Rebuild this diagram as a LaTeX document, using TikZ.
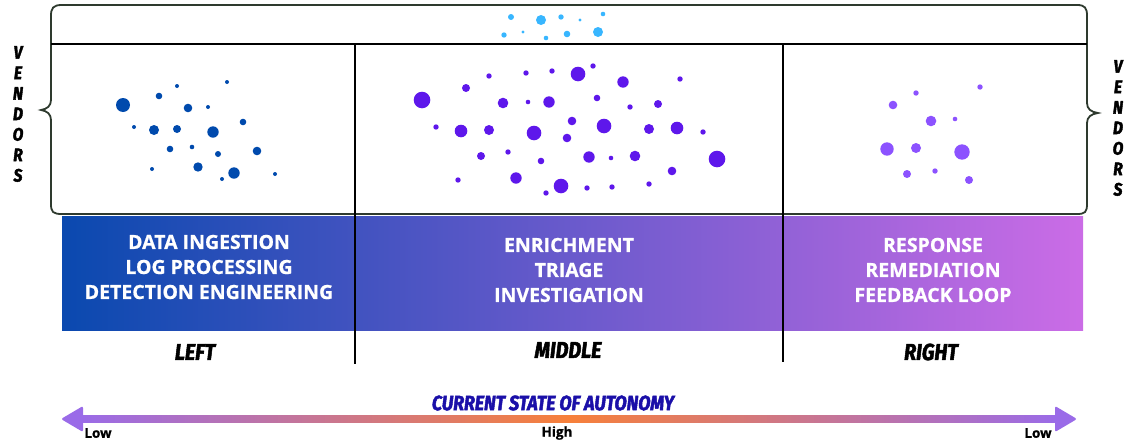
\documentclass[tikz,border=0pt]{standalone}
\usepackage{fontspec}
\setmainfont{Open Sans}[BoldFeatures={FakeBold=0.8}]
\newfontfamily\comic{Fira Sans}[FakeStretch=0.86, FakeBold=2.2]
\usetikzlibrary{calc}
\definecolor{barL}{HTML}{0A49AF}
\definecolor{barM}{HTML}{6A5ACC}
\definecolor{barR}{HTML}{CB6CE6}
\definecolor{dotL}{HTML}{004AAD}
\definecolor{dotC}{HTML}{38B6FF}
\definecolor{dotM}{HTML}{5E17EB}
\definecolor{dotR}{HTML}{8C52FF}
\definecolor{arP}{HTML}{9A6BE8}
\definecolor{arO}{HTML}{F7803A}
\definecolor{curblue}{HTML}{1A0FA8}
\definecolor{bracecol}{HTML}{2E3A2E}
\tikzset{
  wt/.style={text=white, align=center, font=\bfseries\fontsize{19.5}{25}\selectfont, inner sep=0pt},
  lbl/.style={font=\comic\bfseries\itshape\fontsize{23}{23}\selectfont, inner sep=0pt},
  vend/.style={font=\comic\bfseries\itshape\fontsize{18}{20.5}\selectfont, align=center, inner sep=0pt},
  lowhigh/.style={font=\bfseries\fontsize{13.5}{13.5}\selectfont, inner sep=0pt},
  divider/.style={line width=2pt, black},
  bracestyle/.style={line width=1.8pt, bracecol}
}
\begin{document}
\begin{tikzpicture}[x=1pt,y=-1pt]
\useasboundingbox (0,0) rectangle (1132,442);
% gradient bar
\fill[left color=barL, right color=barR, middle color=barM] (62,216) rectangle (1083,330);
% box with braces
\draw[bracestyle] (62,5) -- (1077,5)
  .. controls (1085,5) and (1087,8) .. (1087,16) -- (1087,103)
  .. controls (1087,109) and (1091,112) .. (1098,113)
  .. controls (1091,114) and (1087,117) .. (1087,123) -- (1087,204)
  .. controls (1087,212) and (1085,214) .. (1077,214) -- (62,214)
  .. controls (53,214) and (51,212) .. (51,204) -- (51,120)
  .. controls (51,114) and (47,111) .. (41,110)
  .. controls (47,109) and (51,106) .. (51,100) -- (51,16)
  .. controls (51,8) and (53,5) .. (62,5) -- cycle;
\draw[divider] (51,44) -- (1087,44);
\draw[divider] (355,44) -- (355,364);
\draw[divider] (783,44) -- (783,362);
% dots
\foreach \x/\y/\r in {123/105/7, 159/96/3.3, 177/86/2, 227/82/2, 188/108/4.3, 208/107/2, 243/122/3.3,
  134/127/2, 154/130/5, 177/129/4, 213/132/5.7, 170/149/3.3, 192/147/2.3, 218/154/3, 257/151/4.3,
  152/169/2, 198/167/4.7, 234/173/5.7, 222/179/2, 275/174/2}
  \fill[dotL] (\x,\y) circle[radius=\r];
\foreach \x/\y/\r in {511/17/3, 541/20/5, 561/17/2.7, 580/20/1.7, 603/14/2.3, 504/35/2.7, 523/32/1.7,
  546/38/2.3, 567/34/3.3, 598/32/5}
  \fill[dotC] (\x,\y) circle[radius=\r];
\foreach \x/\y/\r in {422/100/8.3, 466/88/4, 489/76/2.7, 526/73/2.7, 552/71/2.7, 578/74/7.3, 593/66/2.7,
  623/82/5.7, 680/79/2.7, 503/103/5.3, 528/102/2.3, 549/102/5.7, 597/98/3.3, 630/107/2.7, 658/104/4,
  436/127/2.7, 461/131/6.3, 489/130/5, 534/133/7.3, 572/121/4.3, 567/138/4.3, 604/126/7.3, 649/129/5,
  677/128/6.3, 703/132/2.7, 481/156/4, 508/152/2.7, 541/161/3.3, 589/157/5.7, 611/158/2.3, 635/156/5.3,
  717/159/8.3, 672/171/4.3, 458/180/2.7, 516/178/5.7, 561/186/7.3, 546/193/2.7, 587/188/2.7, 612/187/2.7,
  649/184/2.7}
  \fill[dotM] (\x,\y) circle[radius=\r];
\foreach \x/\y/\r in {916/93/2.7, 980/87/2.7, 893/105/4.3, 931/121/5.3, 955/119/2.3, 887/149/6.7,
  916/148/5, 962/152/7.7, 907/174/4, 935/171/2.7, 969/180/4}
  \fill[dotR] (\x,\y) circle[radius=\r];
% bar texts
\node[wt] (tleft) at (209,267) {DATA INGESTION\\LOG PROCESSING\\DETECTION ENGINEERING};
\node[wt] (tmid) at (569,270) {ENRICHMENT\\TRIAGE\\INVESTIGATION};
\node[wt] (tright) at (933,270) {RESPONSE\\REMEDIATION\\FEEDBACK LOOP};
% column labels
\node[lbl] (lleft) at (195,352) {LEFT};
\node[lbl] (lmid) at (568,350) {MIDDLE};
\node[lbl] (lright) at (931,352) {RIGHT};
% vendors
\node[vend] (vl) at (18,114) {V\\E\\N\\D\\O\\R\\S};
\node[vend] (vr) at (1118,128) {V\\E\\N\\D\\O\\R\\S};
% autonomy arrow
\coordinate (aL) at (61,419);
\coordinate (aR) at (1077,419);
\fill[left color=arP, right color=arP, middle color=arO] ($(aL)+(19,-3.5)$) rectangle ($(aR)+(-19,3.5)$);
\fill[arP, rounded corners=2pt] (aL) -- ($(aL)+(22,-13)$) -- ($(aL)+(22,13)$) -- cycle;
\fill[arP, rounded corners=2pt] (aR) -- ($(aR)+(-22,-13)$) -- ($(aR)+(-22,13)$) -- cycle;
\node[font=\comic\bfseries\itshape\fontsize{20.7}{20.7}\selectfont, text=curblue, inner sep=0pt] (cur) at (553,403) {CURRENT STATE OF AUTONOMY};
\node[lowhigh] (low1) at (98,433) {Low};
\node[lowhigh] (high) at (557,433) {High};
\node[lowhigh] (low2) at (1038,433) {Low};
\end{tikzpicture}
\end{document}
